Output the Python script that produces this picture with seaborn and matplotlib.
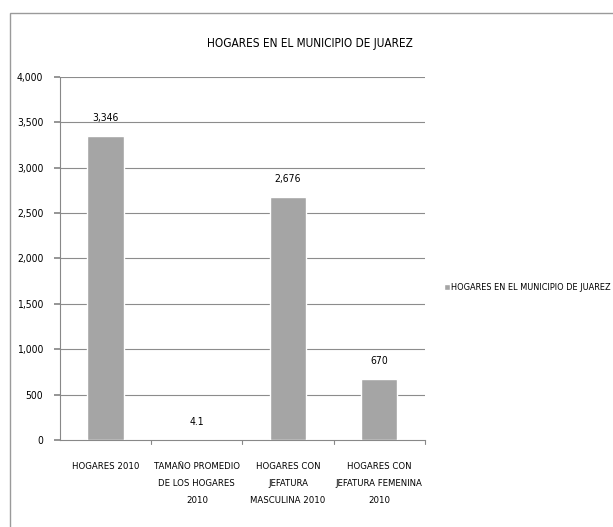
import matplotlib
matplotlib.use("Agg")
import matplotlib.pyplot as plt
import seaborn as sns
import pandas as pd
from matplotlib.patches import Rectangle

categories = ["HOGARES 2010", "TAMAÑO PROMEDIO\nDE LOS HOGARES\n2010", "HOGARES CON\nJEFATURA\nMASCULINA 2010", "HOGARES CON\nJEFATURA FEMENINA\n2010"]
values = [3346, 4.1, 2676, 670]
value_labels = ["3,346", "4.1", "2,676", "670"]
yticks = [0, 500, 1000, 1500, 2000, 2500, 3000, 3500, 4000]
series_name = "HOGARES EN EL MUNICIPIO DE JUAREZ"

sns.set_theme(style="white")
plt.rcParams['font.family'] = ['DejaVu Sans']
plt.rcParams['font.stretch'] = 'condensed'
plt.rcParams['text.color'] = 'black'
plt.rcParams['xtick.color'] = 'black'
plt.rcParams['ytick.color'] = 'black'

df = pd.DataFrame({"cat": categories, "val": values, "serie": series_name})

fig = plt.figure(figsize=(6.13, 5.27), dpi=100)
ax = fig.add_axes([0.098, 0.165, 0.595, 0.689])
sns.barplot(data=df, x="cat", y="val", hue="serie", palette=["#A5A5A5"], width=0.4,
            saturation=1, ax=ax, legend=True, zorder=3)

ax.set_ylim(0, 4000)
ax.set_yticks(yticks)
ax.set_yticklabels([f"{t:,}" for t in yticks], fontsize=7.5)
ax.set_xlim(-0.5, 3.5)
ax.set_xlabel("")
ax.set_ylabel("")
ax.tick_params(axis='x', length=0, labelsize=6.8, pad=16)
for lab in ax.get_xticklabels():
    lab.set_linespacing(2.15)
ax.tick_params(axis='y', length=4, color='#888888', direction='out', left=True, pad=8)
for y in yticks[1:]:
    ax.axhline(y, color='#8c8c8c', lw=0.8, zorder=0)
for xb in [0.5, 1.5, 2.5, 3.5]:
    ax.plot([xb, xb], [0, -0.012], transform=ax.get_xaxis_transform(), color='#888888', lw=0.8, clip_on=False)
for s in ['top', 'right']:
    ax.spines[s].set_visible(False)
ax.spines['left'].set_color('#888888')
ax.spines['bottom'].set_color('#888888')
ax.spines['left'].set_linewidth(0.8)
ax.spines['bottom'].set_linewidth(0.8)

for i, (v, lab) in enumerate(zip(values, value_labels)):
    ax.text(i, v + 198, lab, ha='center', va='center', fontsize=7.5)

leg = ax.legend(loc='center left', bbox_to_anchor=(1.03, 0.42), frameon=False, fontsize=6.6,
                handlelength=0.6, handleheight=0.6, handletextpad=0.2)

fig.text(0.505, 0.918, "HOGARES EN EL MUNICIPIO DE JUAREZ", ha='center', va='center', fontsize=8.5)

fig.patches.append(Rectangle((0.016, -0.2), 1.2, 0.2 + 0.975, transform=fig.transFigure,
                             fill=False, edgecolor='#9a9a9a', lw=1))

fig.savefig("out.png", dpi=100)
